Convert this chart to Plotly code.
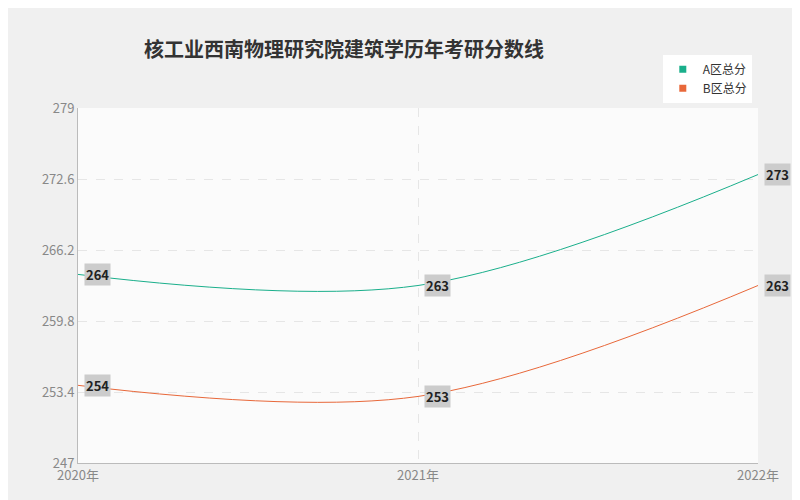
import plotly.graph_objects as go

years = ["2020年", "2021年", "2022年"]
a_scores = [264, 263, 273]
b_scores = [254, 253, 263]
y_ticks = [247, 253.4, 259.8, 266.2, 272.6, 279]

font = "Noto Sans CJK SC"
fig = go.Figure()
for name, vals, color in [("A区总分", a_scores, "#1aaf8b"), ("B区总分", b_scores, "#e8683a")]:
    fig.add_trace(go.Scatter(
        x=[0, 1, 2], y=vals, name=name, mode="lines", showlegend=False,
        line=dict(color=color, width=1, shape="spline", smoothing=1.0),
    ))
    fig.add_trace(go.Scatter(
        x=[None], y=[None], name=name, mode="markers",
        marker=dict(symbol="square", size=7, color=color),
    ))
    for i, v in enumerate(vals):
        fig.add_annotation(x=i, y=v, text=f"<b>{v}</b>", showarrow=False,
                           xanchor="left", xshift=6, bgcolor="#cccccc",
                           font=dict(size=13, color="#222", family=font),
                           borderpad=1)

fig.update_layout(
    width=800, height=500,
    paper_bgcolor="#f0f0f0", plot_bgcolor="#fbfbfb",
    margin=dict(l=70, r=50, t=100, b=45, autoexpand=False),
    title=dict(text="<b>核工业西南物理研究院建筑学历年考研分数线</b>", x=0.17, y=0.93,
               font=dict(size=20, color="#333", family=font)),
    font=dict(family=font, color="#888", size=13),
    legend=dict(x=0.86, y=1.15, xanchor="left", yanchor="top", bgcolor="white",
                font=dict(size=12, color="#333"), itemwidth=30, tracegroupgap=0),
    showlegend=True,
)
fig.update_xaxes(range=[0, 2], tickvals=[0, 1, 2], ticktext=years, automargin=False,
                 showgrid=True, gridcolor="#e6e6e6", griddash="dash",
                 showline=True, linecolor="#bbb", zeroline=False)
fig.update_yaxes(range=[247, 279], tickvals=y_ticks, ticktext=[str(t) for t in y_ticks],
                 automargin=False,
                 showgrid=True, gridcolor="#e6e6e6", griddash="dash",
                 showline=True, linecolor="#bbb", zeroline=False)
fig.write_html("out.html")
